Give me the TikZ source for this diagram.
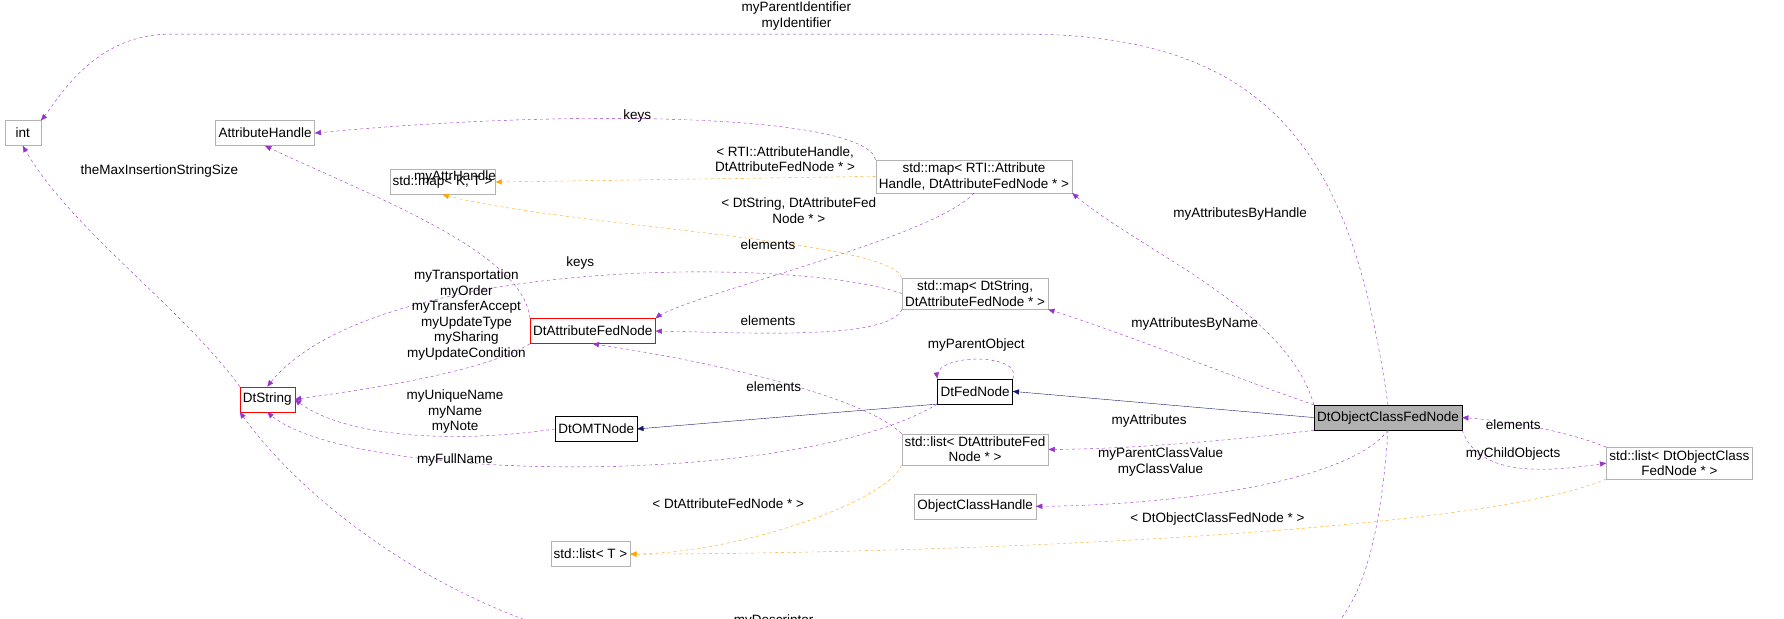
\documentclass[tikz,border=0pt]{standalone}
\usepackage{fontspec}
\setmainfont{Liberation Sans}
\usetikzlibrary{arrows}
\definecolor{orchid}{HTML}{9A32CD}
\definecolor{navyblue}{HTML}{191970}
\definecolor{tmplorange}{HTML}{FFA500}
\begin{document}
\begin{tikzpicture}[x=1.138pt,y=-1.138pt,font=\fontsize{13.5}{15.5}\selectfont]
\tikzstyle{cls} = [draw=black!30,fill=white,inner sep=3pt,minimum height=25pt,align=center]
\tikzstyle{red cls} = [cls,draw=red]
\tikzstyle{blk cls} = [cls,draw=black]
\tikzstyle{use} = [draw=orchid,dashed,-triangle 45]
\tikzstyle{tmpl} = [draw=tmplorange,dashed,-triangle 45]
\tikzstyle{isa} = [draw=navyblue,-triangle 45]
\tikzstyle{lbl} = [align=center,inner sep=1pt]

\useasboundingbox (0,0) rectangle (1568,544);

\node[cls,minimum width=36pt] (int) at (20,117) {int};
\node[cls] (attrh) at (233,117) {AttributeHandle};
\node[cls] (mapkt) at (389,160) {std::map\textless{} K, T \textgreater};
\node[cls] (maprti) at (856,155) {std::map\textless{} RTI::Attribute\\Handle, DtAttributeFedNode * \textgreater};
\node[red cls] (dtafn) at (521,291) {DtAttributeFedNode};
\node[cls] (mapstr) at (857,258) {std::map\textless{} DtString,\\DtAttributeFedNode * \textgreater};
\node[red cls] (dtstr) at (235,351) {DtString};
\node[blk cls] (dtfed) at (857,344) {DtFedNode};
\node[blk cls] (dtomt) at (524,377) {DtOMTNode};
\node[blk cls,fill=black!30] (docfn) at (1220,367) {DtObjectClassFedNode};
\node[cls] (listafn) at (857,395) {std::list\textless{} DtAttributeFed\\Node * \textgreater};
\node[cls] (och) at (857,445) {ObjectClassHandle};
\node[cls] (listt) at (519,487) {std::list\textless{} T \textgreater};
\node[cls] (listocfn) at (1476,407) {std::list\textless{} DtObjectClass\\FedNode * \textgreater};

% members
\draw[use] (docfn.north) .. controls (1190,150) and (1130,30) .. (900,30) -- (150,30) .. controls (80,30) and (50,90) .. (int.north east);
\node[lbl] at (700,14) {myParentIdentifier\\myIdentifier};
\draw[use] (maprti.north west) .. controls (760,100) and (500,95) .. (attrh.east);
\node[lbl] at (560,102) {keys};
\draw[tmpl] (maprti.west) -- (mapkt.east);
\node[lbl] at (690,140) {\textless{} RTI::AttributeHandle,\\DtAttributeFedNode * \textgreater};
\draw[tmpl] (mapstr.north west) .. controls (780,210) and (500,200) .. (mapkt.south);
\node[lbl] at (702,185) {\textless{} DtString, DtAttributeFed\\Node * \textgreater};
\draw[use] (maprti.south) .. controls (820,210) and (600,260) .. (dtafn.north east);
\node[lbl] at (675,215) {elements};
\draw[use] (mapstr.west) .. controls (700,225) and (320,225) .. (dtstr.north);
\node[lbl] at (510,231) {keys};
\draw[use] (mapstr.south west) .. controls (780,300) and (650,292) .. (dtafn.east);
\node[lbl] at (675,282) {elements};
\draw[use] (docfn.north west) .. controls (1130,270) and (1000,220) .. (maprti.south east);
\node[lbl] at (1090,188) {myAttributesByHandle};
\draw[use] (docfn.north west) .. controls (1080,330) and (980,290) .. (mapstr.south east);
\node[lbl] at (1050,285) {myAttributesByName};
\draw[use] (dtfed.north east) .. controls (900,310) and (820,310) .. (dtfed.north west);
\node[lbl] at (858,303) {myParentObject};
\draw[isa] (docfn.west) -- (dtfed.east);
\draw[isa] (dtfed.south west) -- (dtomt.east);
\draw[use] (dtomt.west) .. controls (400,390) and (300,385) .. (dtstr.east);
\node[lbl] at (400,362) {myUniqueName\\myName\\myNote};
\draw[use] (dtfed.south west) .. controls (700,430) and (300,425) .. (dtstr.south);
\node[lbl] at (400,404) {myFullName};
\draw[use] (dtafn.south west) .. controls (420,330) and (300,345) .. (dtstr.east);
\node[lbl] at (410,277) {myTransportation\\myOrder\\myTransferAccept\\myUpdateType\\mySharing\\myUpdateCondition};
\draw[use] (dtafn.north west) .. controls (460,220) and (320,170) .. (attrh.south);
\node[lbl] at (400,156) {myAttrHandle};
\draw[use] (dtstr.north west) .. controls (160,270) and (60,200) .. (int.south);
\node[lbl] at (140,150) {theMaxInsertionStringSize};
\draw[use] (listafn.north west) .. controls (760,350) and (640,320) .. (dtafn.south);
\node[lbl] at (680,340) {elements};
\draw[use] (docfn.south west) .. controls (1100,385) and (1000,395) .. (listafn.east);
\node[lbl] at (1010,370) {myAttributes};
\draw[use] (docfn.south) .. controls (1180,430) and (1000,445) .. (och.east);
\node[lbl] at (1020,406) {myParentClassValue\\myClassValue};
\draw[use] (listocfn.north west) .. controls (1380,380) and (1330,370) .. (docfn.east);
\node[lbl] at (1330,373) {elements};
\draw[use] (docfn.south east) .. controls (1300,420) and (1360,415) .. (listocfn.west);
\node[lbl] at (1330,399) {myChildObjects};
\draw[tmpl] (listafn.south west) .. controls (780,440) and (650,487) .. (listt.east);
\node[lbl] at (640,443) {\textless{} DtAttributeFedNode * \textgreater};
\draw[tmpl] (listocfn.south west) .. controls (1300,470) and (800,487) .. (listt.east);
\node[lbl] at (1070,456) {\textless{} DtObjectClassFedNode * \textgreater};
\draw[use] (docfn.south) .. controls (1210,520) and (1180,580) .. (1100,580) -- (650,580) .. controls (450,580) and (280,460) .. (dtstr.south west);
\node[lbl] at (680,553) {myDescriptor\\mySharing};
\end{tikzpicture}
\end{document}
